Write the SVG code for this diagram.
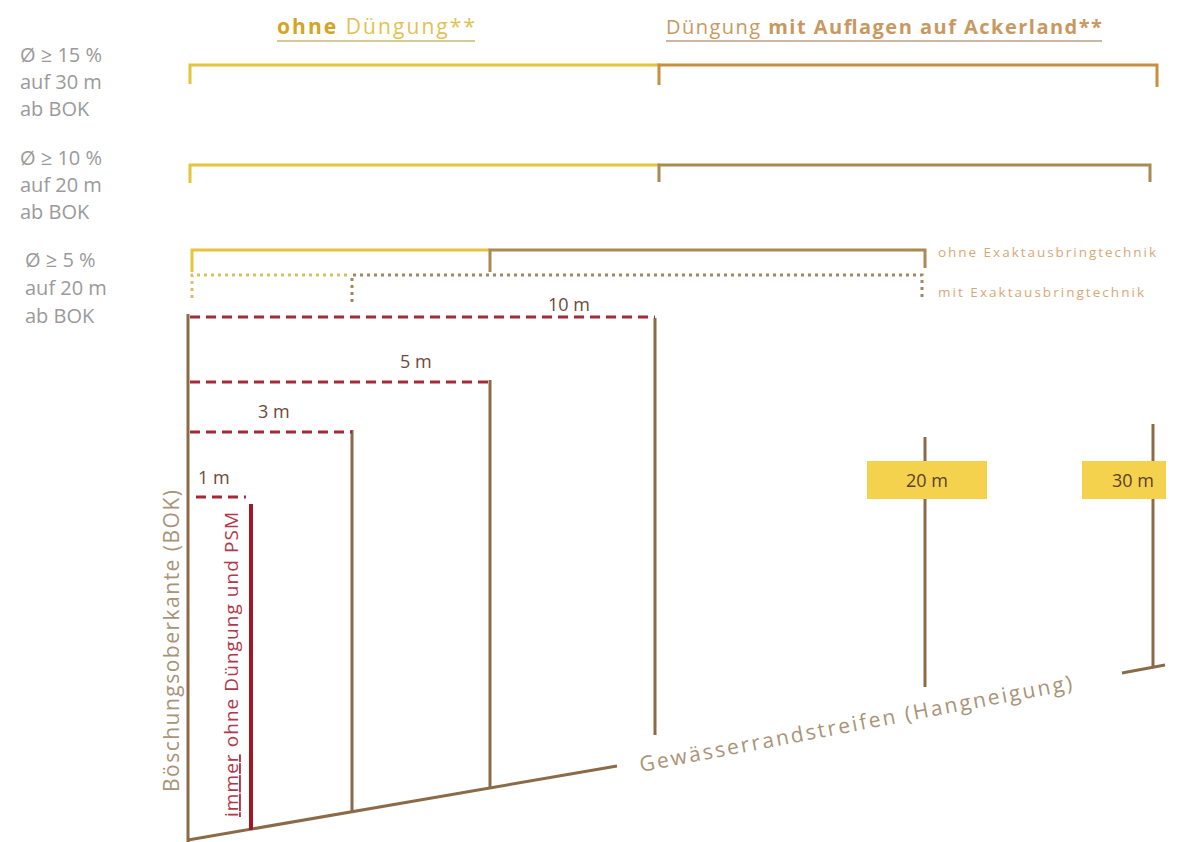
<svg xmlns="http://www.w3.org/2000/svg" width="1196" height="842" viewBox="0 0 1196 842">
<style>
text{font-family:"Open Sans","Liberation Sans",sans-serif}
.lbl{fill:#9a9a9a;font-size:20px}
.yel{fill:none;stroke:#e6c43c;stroke-width:3}
.org{fill:none;stroke:#c8903c;stroke-width:3}
.brn{fill:none;stroke:#a88a52;stroke-width:3}
.yd{fill:none;stroke:#d8c060;stroke-width:3;stroke-dasharray:3 4}
.bd{fill:none;stroke:#a08860;stroke-width:3;stroke-dasharray:3 4}
.post{stroke:#8b6a48;stroke-width:3;fill:none}
.dash{stroke:#a32a36;stroke-width:3;stroke-dasharray:10 6;fill:none}
.box{fill:#f5d24e}
.m{fill:#5a4030;font-size:18px}
.mt{fill:#6a4a3a;font-size:18px}
.small{fill:#d8a878;font-size:13.5px}
</style>
<rect width="1196" height="842" fill="#ffffff"/>

<g id="titles">
  <text x="277" y="34" font-size="21" textLength="198"><tspan font-weight="bold" fill="#d4a423">ohne</tspan><tspan fill="#e2c24e"> Düngung**</tspan></text>
  <line x1="277" y1="41" x2="475" y2="41" stroke="#c8b870" stroke-width="1.5"/>
  <text x="666" y="34" font-size="20" fill="#c89860" textLength="436"><tspan>Düngung </tspan><tspan font-weight="bold">mit Auflagen auf Ackerland**</tspan></text>
  <line x1="666" y1="41" x2="1102" y2="41" stroke="#b8a080" stroke-width="1.5"/>
</g>

<g id="slope-labels">
  <text class="lbl" x="20" y="62">Ø ≥ 15 %</text>
  <text class="lbl" x="20" y="89">auf 30 m</text>
  <text class="lbl" x="20" y="116">ab BOK</text>
  <text class="lbl" x="20" y="165">Ø ≥ 10 %</text>
  <text class="lbl" x="20" y="192">auf 20 m</text>
  <text class="lbl" x="20" y="219">ab BOK</text>
  <text class="lbl" x="25" y="267">Ø ≥ 5 %</text>
  <text class="lbl" x="25" y="295">auf 20 m</text>
  <text class="lbl" x="25" y="323">ab BOK</text>
</g>

<g id="brackets">
  <path class="yel" d="M190,84 V65 H660"/>
  <path class="org" d="M659,85 V65 H1157 V87"/>
  <path class="yel" d="M190,183 V165 H660"/>
  <path class="brn" d="M659,182 V165 H1150 V182"/>
  <path class="yel" d="M192,272 V250 H490"/>
  <path class="brn" d="M490,272 V250 H925 V268"/>
  <path class="yd" d="M192,298 V275 H350"/>
  <path class="bd" d="M352,302 V275 H922 V298"/>
  <text class="small" x="938" y="257" textLength="218">ohne Exaktausbringtechnik</text>
  <text class="small" x="938" y="297" textLength="206">mit Exaktausbringtechnik</text>
</g>

<g id="connectors">
  <line class="post" x1="188" y1="314" x2="188" y2="842"/>
  <line class="post" x1="188" y1="840" x2="617" y2="766"/>
  <line class="post" x1="655" y1="318" x2="655" y2="735"/>
  <line class="post" x1="490" y1="380" x2="490" y2="788"/>
  <line class="post" x1="352" y1="430" x2="352" y2="812"/>
  <line x1="251" y1="504" x2="251" y2="830" stroke="#a01828" stroke-width="4"/>
  <path class="dash" d="M190,317 H655"/>
  <path class="dash" d="M190,382 H490"/>
  <path class="dash" d="M190,432 H352"/>
  <path class="dash" d="M196,497 H246"/>
  <line class="post" x1="925" y1="437" x2="925" y2="687"/>
  <line class="post" x1="1153" y1="424" x2="1153" y2="668"/>
  <line class="post" x1="1122" y1="673" x2="1165" y2="665"/>
</g>

<g id="dist-labels">
  <text class="mt" x="548" y="311">10 m</text>
  <text class="mt" x="400" y="368">5 m</text>
  <text class="mt" x="258" y="418">3 m</text>
  <text class="mt" x="198" y="484">1 m</text>
</g>

<g id="post-20">
  <rect class="box" x="867" y="461" width="120" height="38"/>
  <text class="m" x="927" y="487" text-anchor="middle">20 m</text>
</g>
<g id="post-30">
  <rect class="box" x="1082" y="461" width="84" height="38"/>
  <text class="m" x="1133" y="487" text-anchor="middle">30 m</text>
</g>

<g id="vertical-labels">
  <text x="179" y="792" font-size="21" fill="#a89478" transform="rotate(-90 179 792)" textLength="302">Böschungsoberkante (BOK)</text>
  <text x="238" y="817" font-size="19" fill="#b03848" transform="rotate(-90 238 817)" textLength="305"><tspan text-decoration="underline">immer</tspan> ohne Düngung und PSM</text>
</g>

<g id="axis-label">
  <text x="641" y="772" font-size="21" fill="#a89478" transform="rotate(-10.8 641 772)" textLength="440">Gewässerrandstreifen (Hangneigung)</text>
</g>
</svg>
